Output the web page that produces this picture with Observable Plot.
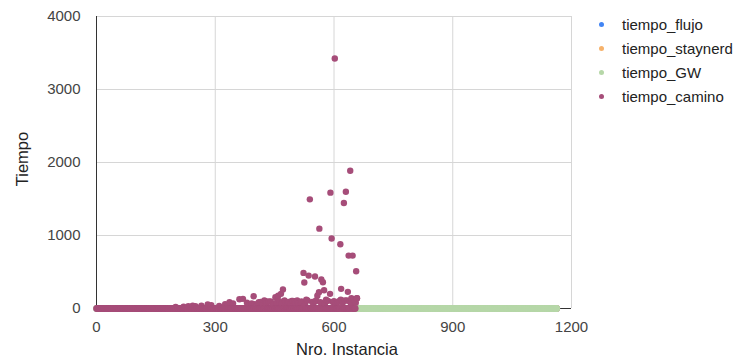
<!DOCTYPE html>
<html>
<head>
<meta charset="utf-8">
<script src="https://cdn.jsdelivr.net/npm/d3@7"></script>
<script src="https://cdn.jsdelivr.net/npm/@observablehq/plot@0.6"></script>
<style>
  html, body { margin: 0; padding: 0; background: #fff; }
  #wrap { position: relative; width: 737px; height: 357px; font-family: Arial, "Liberation Sans", sans-serif; }
  .lab { position: absolute; color: #222; font-size: 16.5px; white-space: nowrap; }
  .leg { position: absolute; left: 597px; font-size: 15px; color: #222; white-space: nowrap; }
  .leg span.dot { position: absolute; left: 2px; width: 5px; height: 5px; border-radius: 50%; }
  .leg span.txt { position: absolute; left: 25px; }
</style>
</head>
<body>
<div id="wrap"></div>
<script>
// ---- data ----
const seriesNames = ["tiempo_flujo", "tiempo_staynerd", "tiempo_GW", "tiempo_camino"];
const seriesColors = ["#4285f4", "#f6b26b", "#b6d7a8", "#a64d79"];
const xTicks = [0, 300, 600, 900, 1200];
const yTicks = [0, 1000, 2000, 3000, 4000];

// number of instances per series (values at the baseline ~0 unless listed below)
const nFlujo = 1164;
const nStaynerd = 1164;
const nGW = 1164;
const nCamino = 657;
const baselineValue = 0;

// tiempo_camino values that rise above the baseline: instance, value
const caminoInst = [602, 641, 591, 630, 539, 625, 563, 594, 616, 637, 647,
  471, 656, 523, 536, 552, 568, 525, 572, 658, 545, 618, 471, 575, 562, 590, 635,
  558, 397, 459, 658, 644, 466, 617, 424, 370, 361, 336, 452, 281,
  496, 507, 427, 243, 619, 645,
  250, 265, 290, 310, 325, 345, 380, 400, 415, 430, 440, 455, 475, 485, 500,
  515, 530, 545, 555, 580, 600, 610, 628, 640, 650, 655, 200, 220, 232,
  385, 392, 405, 410, 420, 435, 445, 448, 462, 468, 478, 482, 490, 493, 503,
  510, 518, 527, 533, 548, 553, 566, 577, 585, 597, 605, 613, 622, 633, 643, 652];
const caminoVal = [3424, 1888, 1587, 1600, 1495, 1446, 1094, 958, 880, 725, 725,
  551, 510, 488, 451, 438, 397, 356, 360, 297, 305, 269, 260, 250, 223, 201, 228,
  174, 168, 174, 141, 141, 201, 119, 109, 132, 127, 86, 155, 55,
  105, 109, 100, 37, 109, 132,
  30, 40, 45, 35, 60, 70, 80, 60, 90, 75, 95, 80, 110, 90, 100,
  85, 120, 90, 110, 120, 100, 90, 110, 95, 120, 80, 20, 25, 30,
  50, 70, 45, 85, 60, 95, 70, 55, 100, 65, 90, 75, 60, 105, 80,
  70, 95, 60, 110, 75, 100, 85, 65, 105, 90, 70, 100, 80, 110, 60, 95];

// ---- build tables ----
const caminoMap = new Map();
caminoInst.forEach((x, i) => caminoMap.set(x, caminoVal[i]));
const baseRows = (n) => d3.range(n).map(i => ({x: i, y: baselineValue}));
const flujo = baseRows(nFlujo);
const staynerd = baseRows(nStaynerd);
const gw = baseRows(nGW);
const camino = d3.range(nCamino).map(i => ({x: i, y: caminoMap.has(i) ? caminoMap.get(i) : baselineValue}))
  .concat(caminoInst.filter(x => x >= nCamino).map((x) => ({x, y: caminoMap.get(x)})));

const R = 3.2;
const chart = Plot.plot({
  width: 737,
  height: 357,
  marginLeft: 96,
  marginRight: 166,
  marginTop: 16,
  marginBottom: 49,
  style: {fontFamily: "Arial, 'Liberation Sans', sans-serif", fontSize: "15px", color: "#444", background: "#fff", overflow: "visible"},
  x: {domain: [0, 1200]},
  y: {domain: [0, 4000]},
  marks: [
    Plot.gridX(xTicks.slice(1), {stroke: "#d6d6d6", strokeOpacity: 1}),
    Plot.gridY(yTicks.slice(1), {stroke: "#d6d6d6", strokeOpacity: 1}),
    Plot.axisX({ticks: xTicks, tickSize: 0, tickPadding: 13, label: null, tickFormat: d => String(d), fill: "#444"}),
    Plot.axisY({ticks: yTicks, tickSize: 0, tickPadding: 16, label: null, tickFormat: d => String(d), fill: "#444"}),
    Plot.ruleX([0], {stroke: "#333", strokeWidth: 1}),
    Plot.ruleY([0], {stroke: "#333", strokeWidth: 1}),
    Plot.dot(flujo, {x: "x", y: "y", r: R, fill: seriesColors[0], stroke: "none"}),
    Plot.dot(staynerd, {x: "x", y: "y", r: R, fill: seriesColors[1], stroke: "none"}),
    Plot.dot(gw, {x: "x", y: "y", r: R, fill: seriesColors[2], stroke: "none"}),
    Plot.dot(camino, {x: "x", y: "y", r: R, fill: seriesColors[3], stroke: "none"})
  ]
});

const wrap = document.getElementById("wrap");
wrap.appendChild(chart);
chart.style.position = "absolute";
chart.style.left = "0px";
chart.style.top = "0px";

// axis titles
const xl = document.createElement("div");
xl.className = "lab";
xl.textContent = "Nro. Instancia";
xl.style.left = "347px"; xl.style.top = "349px";
xl.style.transform = "translate(-50%, -50%)";
wrap.appendChild(xl);

const yl = document.createElement("div");
yl.className = "lab";
yl.textContent = "Tiempo";
yl.style.left = "21.5px"; yl.style.top = "159px";
yl.style.transform = "translate(-50%, -50%) rotate(-90deg)";
wrap.appendChild(yl);

// legend
const legY = [24.5, 48.5, 72.5, 96.5];
seriesNames.forEach((name, i) => {
  const d = document.createElement("div");
  d.className = "leg";
  d.style.top = legY[i] + "px";
  const dot = document.createElement("span");
  dot.className = "dot";
  dot.style.background = seriesColors[i];
  dot.style.top = "-2.5px";
  const t = document.createElement("span");
  t.className = "txt";
  t.textContent = name;
  t.style.top = "-9px";
  d.appendChild(dot); d.appendChild(t);
  wrap.appendChild(d);
});
</script>
</body>
</html>
